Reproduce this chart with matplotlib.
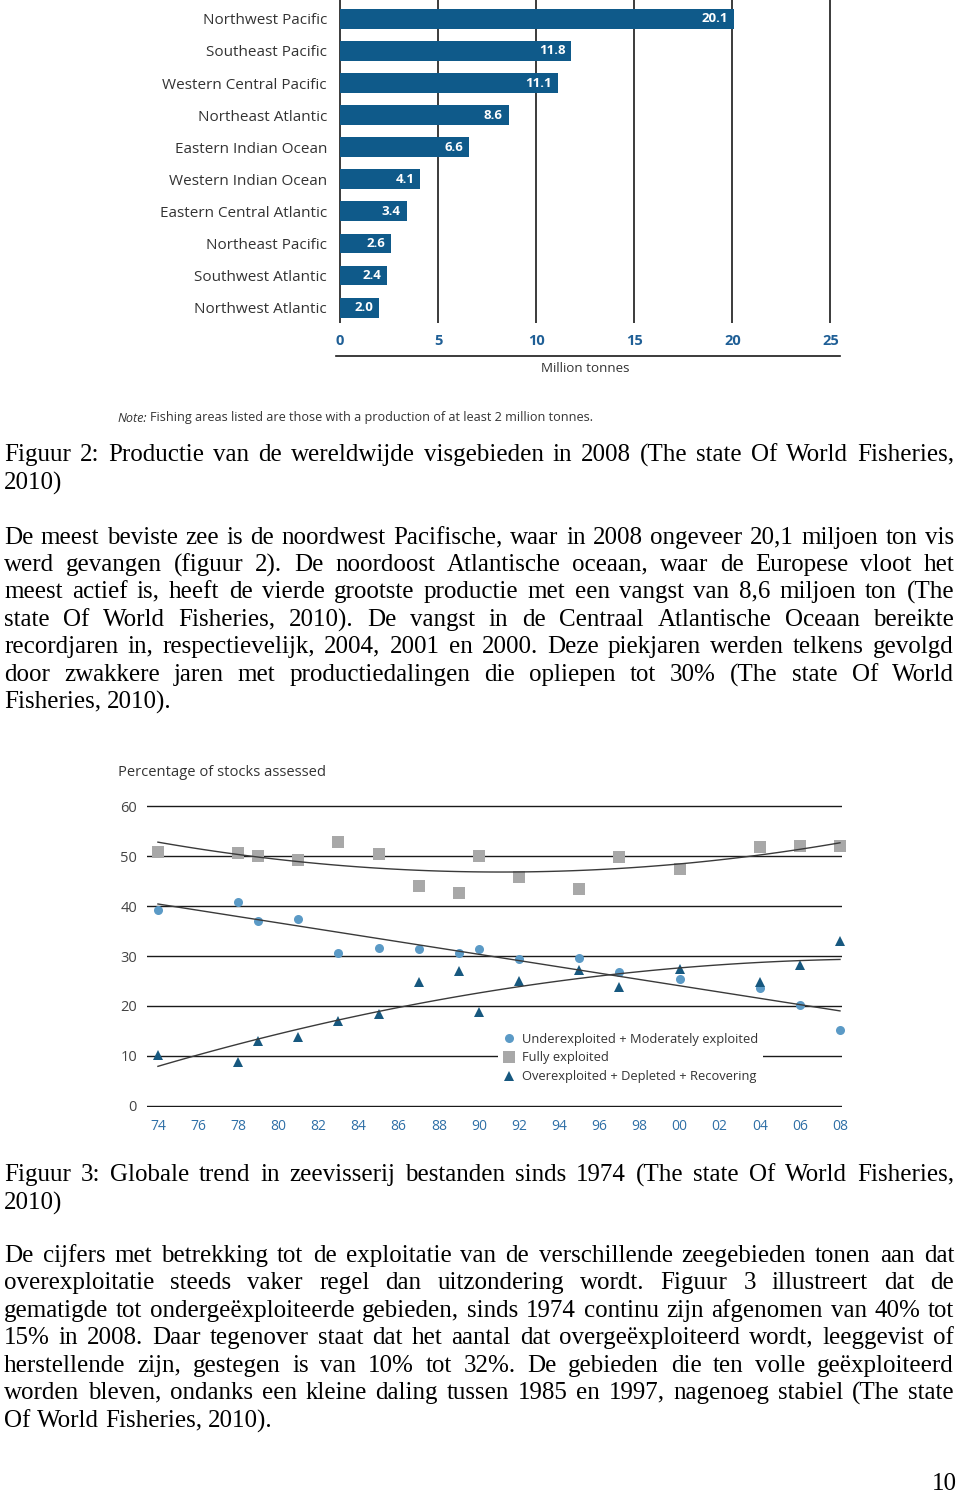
import math
import numpy as np
import matplotlib
matplotlib.use("Agg")
import matplotlib.pyplot as plt
from matplotlib.lines import Line2D
from matplotlib.font_manager import FontProperties

W, H = 960, 1493

# --- figure 2: production per fishing area (million tonnes, 2008)
regions = ["Northwest Pacific", "Southeast Pacific", "Western Central Pacific",
           "Northeast Atlantic", "Eastern Indian Ocean", "Western Indian Ocean",
           "Eastern Central Atlantic", "Northeast Pacific", "Southwest Atlantic",
           "Northwest Atlantic"]
production = [20.1, 11.8, 11.1, 8.6, 6.6, 4.1, 3.4, 2.6, 2.4, 2.0]
prod_ticks = [0, 5, 10, 15, 20, 25]

# --- figure 3: state of world stocks, % of stocks assessed
years = [1974, 1978, 1979, 1981, 1983, 1985, 1987, 1989, 1990, 1992,
         1995, 1997, 2000, 2004, 2006, 2008]
under = [39.3, 40.9, 37.1, 37.5, 30.7, 31.6, 31.4, 30.6, 31.4, 29.4,
         29.6, 26.8, 25.4, 23.5, 20.1, 15.1]
full = [50.8, 50.6, 50.0, 49.2, 52.8, 50.4, 44.1, 42.7, 50.0, 45.9,
        43.5, 49.9, 47.4, 51.8, 52.1, 52.1]
over = [10.1, 8.7, 13.0, 13.7, 16.9, 18.3, 24.7, 27.0, 18.7, 24.9,
        27.2, 23.7, 27.4, 24.8, 28.1, 33.1]
year_ticks = list(range(1974, 2009, 2))
year_labels = [f"{y % 100:02d}" for y in year_ticks]
pct_ticks = [0, 10, 20, 30, 40, 50, 60]

BAR = "#0f5a8a"
BLUE_TXT = "#1f5f96"
TICK2 = "#2e6fa6"
DARK = "#333333"
GRID = "#1a1a1a"
SANS = "Open Sans"
SERIF = "Liberation Serif"


def box(x0, y0, x1, y1):
    return [x0 / W, 1 - y1 / H, (x1 - x0) / W, (y1 - y0) / H]


def fx(x):
    return x / W


def fy(y):
    return 1 - y / H


fig = plt.figure(figsize=(W / 100, H / 100), dpi=100)
fig.patch.set_facecolor("white")
renderer = fig.canvas.get_renderer()

# ---------------- bar chart ----------------
ax1 = fig.add_axes(box(336, 0, 834.4, 323))
ax1.barh(range(len(regions)), production, height=0.62, color=BAR, zorder=3)
ax1.set_xlim(-0.2, 25.2)
ax1.set_ylim(9.48, -0.59)
ax1.set_xticks(prod_ticks)
ax1.set_yticks(range(len(regions)))
ax1.set_yticklabels(regions, family=SANS, fontsize=11, color=DARK)
ax1.tick_params(axis="y", length=0, pad=6.5)
ax1.tick_params(axis="x", length=0, pad=8, labelsize=10.5, labelcolor=BLUE_TXT)
for lbl in ax1.get_xticklabels():
    lbl.set_fontweight("bold")
    lbl.set_family(SANS)
ax1.grid(axis="x", color=GRID, lw=1.2, zorder=1)
for s in ax1.spines.values():
    s.set_visible(False)
for i, v in enumerate(production):
    ax1.text(v - 0.3, i, f"{v:.1f}", ha="right", va="center", color="white",
             fontsize=9.5, fontweight="bold", family=SANS, zorder=4)

fig.add_artist(Line2D([fx(336), fx(840)], [fy(356), fy(356)], color=GRID, lw=1.2))
fig.text(fx(585), fy(368), "Million tonnes", ha="center", va="center",
         family=SANS, fontsize=9.6, color=DARK)

t = fig.text(fx(117), fy(418), "Note:", ha="left", va="center", family=SANS,
             fontsize=9.1, style="italic", color=DARK)
nw = t.get_window_extent(renderer).width
fig.text(fx(117 + nw + 3), fy(418),
         "Fishing areas listed are those with a production of at least 2 million tonnes.",
         ha="left", va="center", family=SANS, fontsize=9.1, color=DARK)

# ---------------- scatter chart ----------------
ax2 = fig.add_axes(box(146.7, 805, 842, 1107))
ax2.set_xlim(1973.44, 2008.1)
ax2.set_ylim(-0.3, 60.3)
ax2.set_yticks(pct_ticks)
ax2.set_xticks(year_ticks)
ax2.set_xticklabels(year_labels)
ax2.grid(axis="y", color=GRID, lw=1.0, zorder=1)
ax2.tick_params(axis="y", length=0, pad=7, labelsize=10.5, labelcolor="#444444")
ax2.tick_params(axis="x", length=0, pad=9, labelsize=10, labelcolor=TICK2)
for lbl in ax2.get_xticklabels() + ax2.get_yticklabels():
    lbl.set_family(SANS)
for s in ax2.spines.values():
    s.set_visible(False)

ax2.plot(years, full, "s", color="#a8a8a8", ms=8.5, mew=0, clip_on=False, zorder=3)
ax2.plot(years, under, "o", color="#5b9ac6", ms=6.5, mew=0, clip_on=False, zorder=3)
ax2.plot(years, over, "^", color="#17587f", ms=7, mew=0, clip_on=False, zorder=3)

# trend lines fitted to the plotted points
xs = np.linspace(1974, 2008, 120)
for ys, deg in [(under, 1), (full, 2), (over, 2)]:
    c = np.polyfit(np.array(years) - 1974, ys, deg)
    ax2.plot(xs, np.polyval(c, xs - 1974), color="#3a3a3a", lw=1.0, zorder=4)

handles = [
    Line2D([], [], ls="none", marker="o", color="#5b9ac6", ms=6.5, mew=0),
    Line2D([], [], ls="none", marker="s", color="#a8a8a8", ms=8, mew=0),
    Line2D([], [], ls="none", marker="^", color="#17587f", ms=7, mew=0),
]
labels = ["Underexploited + Moderately exploited", "Fully exploited",
          "Overexploited + Depleted + Recovering"]
leg = ax2.legend(handles, labels, loc="upper left",
                 bbox_to_anchor=((492 - 146.7) / 695.3, (1107 - 1021) / 302),
                 frameon=True, facecolor="white", edgecolor="none", framealpha=1,
                 fancybox=False, borderpad=0.4, handlelength=0.9, handletextpad=0.5,
                 labelspacing=0.45, prop={"family": SANS, "size": 9.3})
for txt in leg.get_texts():
    txt.set_color(DARK)

fig.text(fx(118), fy(773), "Percentage of stocks assessed", ha="left", va="center",
         family=SANS, fontsize=10.6, color=DARK)

# ---------------- body text (justified, one text per word) ----------------
LEFT, RIGHT = 4, 954
FS = 18
serif_prop = FontProperties(family=SERIF, size=FS)
SPACE = FS * 100 / 72 * 0.25

try:
    from matplotlib.backends.backend_agg import get_hinting_flag

    def snap_y(word, target):
        # keep every word on the same pixel baseline after Agg's rounding
        font = renderer._prepare_font(serif_prop)
        font.set_text(word, 0, flags=get_hinting_flag())
        desc = font.get_descent()
        hgt = font.get_width_height()[1]
        yo = font.get_bitmap_offset()[1] / 64.0
        k = round(target) + hgt // 64 - (hgt - desc) // 64
        return k - desc / 64.0 - yo
except Exception:
    def snap_y(word, target):
        return target


def write_block(lines, y0, step):
    for k, (line, just) in enumerate(lines):
        yb = y0 + k * step
        words = line.split(" ")
        objs = [fig.text(0, fy(yb), w, fontproperties=serif_prop, va="baseline",
                         ha="left", color="black") for w in words]
        widths = [o.get_window_extent(renderer).width for o in objs]
        if just and len(words) > 1:
            gap = (RIGHT - LEFT - sum(widths)) / (len(words) - 1)
        else:
            gap = SPACE
        x = LEFT
        for o, w, word in zip(objs, widths, words):
            try:
                y = snap_y(word, yb)
            except Exception:
                y = yb
            o.set_position((fx(x), fy(y)))
            x += w + gap


write_block([
    ("Figuur 2: Productie van de wereldwijde visgebieden in 2008 (The state Of World Fisheries,", True),
    ("2010)", False),
], 461, 28)

write_block([
    ("De meest beviste zee is de noordwest Pacifische, waar in 2008 ongeveer 20,1 miljoen ton vis", True),
    ("werd gevangen (figuur 2). De noordoost Atlantische oceaan, waar de Europese vloot het", True),
    ("meest actief is, heeft de vierde grootste productie met een vangst van 8,6 miljoen ton (The", True),
    ("state Of World Fisheries, 2010). De vangst in de Centraal Atlantische Oceaan bereikte", True),
    ("recordjaren in, respectievelijk, 2004, 2001 en 2000. Deze piekjaren werden telkens gevolgd", True),
    ("door zwakkere jaren met productiedalingen die opliepen tot 30% (The state Of World", True),
    ("Fisheries, 2010).", False),
], 543.5, 27.45)

write_block([
    ("Figuur 3: Globale trend in zeevisserij bestanden sinds 1974 (The state Of World Fisheries,", True),
    ("2010)", False),
], 1180.7, 28.6)

write_block([
    ("De cijfers met betrekking tot de exploitatie van de verschillende zeegebieden tonen aan dat", True),
    ("overexploitatie steeds vaker regel dan uitzondering wordt. Figuur 3 illustreert dat de", True),
    ("gematigde tot ondergeëxploiteerde gebieden, sinds 1974 continu zijn afgenomen van 40% tot", True),
    ("15% in 2008. Daar tegenover staat dat het aantal dat overgeëxploiteerd wordt, leeggevist of", True),
    ("herstellende zijn, gestegen is van 10% tot 32%. De gebieden die ten volle geëxploiteerd", True),
    ("worden bleven, ondanks een kleine daling tussen 1985 en 1997, nagenoeg stabiel (The state", True),
    ("Of World Fisheries, 2010).", False),
], 1261.7, 27.5)

fig.text(fx(957), fy(1490), "10", fontproperties=serif_prop, ha="right", va="baseline")

fig.savefig("out.png", dpi=100, facecolor="white")
